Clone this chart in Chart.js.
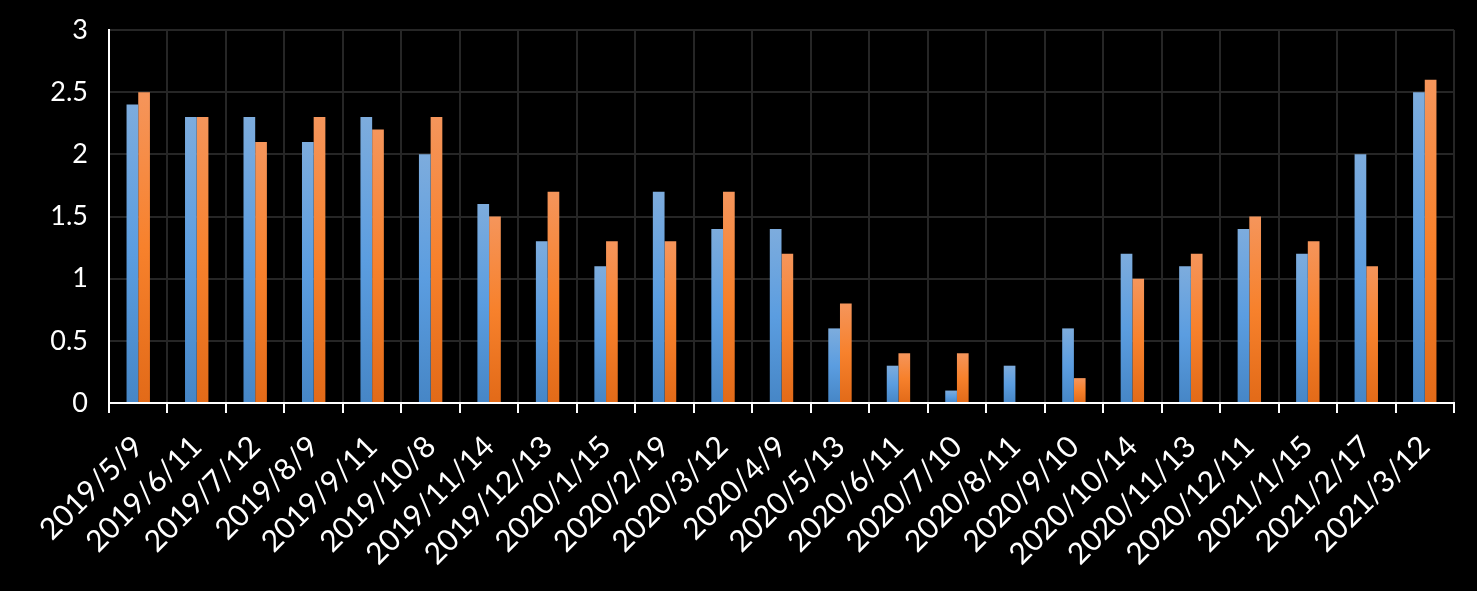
<!DOCTYPE html>
<html>
<head>
<meta charset="utf-8">
<script src="https://cdn.jsdelivr.net/npm/chart.js@4.4.0/dist/chart.umd.min.js"></script>
<style>
html,body{margin:0;padding:0;background:#000;}
#wrap{width:1477px;height:591px;position:relative;}
</style>
</head>
<body>
<div id="wrap"><canvas id="c" width="1477" height="591"></canvas></div>
<script>
const categories = ["2019/5/9","2019/6/11","2019/7/12","2019/8/9","2019/9/11","2019/10/8","2019/11/14","2019/12/13","2020/1/15","2020/2/19","2020/3/12","2020/4/9","2020/5/13","2020/6/11","2020/7/10","2020/8/11","2020/9/10","2020/10/14","2020/11/13","2020/12/11","2021/1/15","2021/2/17","2021/3/12"];
const seriesBlue = [2.4,2.3,2.3,2.1,2.3,2.0,1.6,1.3,1.1,1.7,1.4,1.4,0.6,0.3,0.1,0.3,0.6,1.2,1.1,1.4,1.2,2.0,2.5];
const seriesOrange = [2.5,2.3,2.1,2.3,2.2,2.3,1.5,1.7,1.3,1.3,1.7,1.2,0.8,0.4,0.4,0,0.2,1.0,1.2,1.5,1.3,1.1,2.6];
const yTicks = [0,0.5,1,1.5,2,2.5,3];

function grad(stops){
  return function(ctx){
    const chart = ctx.chart;
    if(!chart.chartArea || ctx.raw === undefined) return stops[1];
    const ys = chart.scales.y;
    const top = ys.getPixelForValue(ctx.raw);
    const base = ys.getPixelForValue(0);
    if(!(base-top>1)) return stops[1];
    const g = chart.ctx.createLinearGradient(0, top, 0, base);
    g.addColorStop(0, stops[0]);
    g.addColorStop(0.5, stops[1]);
    g.addColorStop(1, stops[2]);
    return g;
  };
}

new Chart(document.getElementById('c'), {
  type: 'bar',
  data: {
    labels: categories,
    datasets: [
      {data: seriesBlue, backgroundColor: grad(['#7dacdd','#5b9de0','#4686c6']), categoryPercentage: 0.4, barPercentage: 1.0},
      {data: seriesOrange, backgroundColor: grad(['#f5955b','#f7812c','#e26a18']), categoryPercentage: 0.4, barPercentage: 1.0}
    ]
  },
  options: {
    responsive: false,
    animation: false,
    layout: {padding: {top: 30, right: 23, left: 0, bottom: 0}},
    plugins: {legend: {display: false}, tooltip: {enabled: false}},
    scales: {
      x: {
        afterFit: (axis) => { axis.height = 188; axis.paddingLeft = 0; axis.paddingRight = 0; },
        grid: {color: '#262626', lineWidth: 2, tickLength: 10, tickColor: '#ffffff', tickWidth: 2, offset: true},
        border: {color: '#ffffff', width: 2},
        ticks: {color: '#ffffff', font: {family: 'Lato', size: 30}, maxRotation: 45, minRotation: 45, autoSkip: false, padding: 16}
      },
      y: {
        min: 0, max: 3,
        afterFit: (axis) => { axis.width = 109; axis.paddingTop = 0; axis.paddingBottom = 0; },
        afterBuildTicks: (axis) => { axis.ticks = yTicks.map(v => ({value: v})); },
        grid: {color: '#262626', lineWidth: 2, drawTicks: false},
        border: {color: '#ffffff', width: 2},
        ticks: {color: '#ffffff', font: {family: 'Lato', size: 27}, padding: 21, callback: v => String(v)}
      }
    }
  }
});
</script>
</body>
</html>
